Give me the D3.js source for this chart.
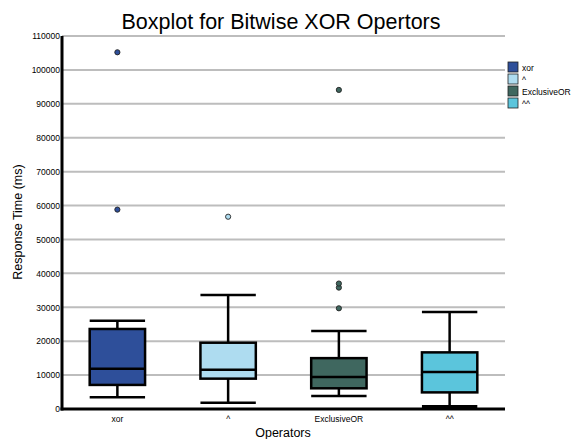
<!DOCTYPE html>
<html><head><meta charset="utf-8">
<script src="https://cdn.jsdelivr.net/npm/d3@7"></script>
<style>body{margin:0;background:#fff}svg{display:block;font-family:"Liberation Sans",Arial,sans-serif}</style>
</head><body>
<svg id="chart" width="574" height="439"></svg>
<script>
const categories = ["xor", "^", "ExclusiveOR", "^^"];
const colors = ["#2e4f9a", "#aedcf0", "#3f675f", "#5bc5dc"];
const whiskerLow = [3450, 1850, 3800, 600];
const q1 = [7100, 8950, 6100, 4900];
const median = [11900, 11600, 9450, 10900];
const q3 = [23600, 19550, 15000, 16700];
const whiskerHigh = [26050, 33600, 23000, 28600];
const outliers = [[58800, 105200], [56700], [29700, 35800, 37000, 94100], []];
const yTicks = [0,10000,20000,30000,40000,50000,60000,70000,80000,90000,100000,110000];

(function draw() {
const svg = d3.select("#chart");
const mLeft = 62, mRight = 505, mTop = 36, mBottom = 409;
const x = d3.scaleBand().domain(categories).range([mLeft, mRight]);
const y = d3.scaleLinear().domain([0, 110000]).range([mBottom, mTop]);

// gridlines
svg.append("g").selectAll("line").data(yTicks.filter(d => d > 0)).join("line")
  .attr("x1", mLeft).attr("x2", mRight)
  .attr("y1", d => y(d)).attr("y2", d => y(d))
  .attr("stroke", "#bdbdbd").attr("stroke-width", 2);

// y axis
const yAxis = svg.append("g").attr("transform", `translate(${mLeft},0)`)
  .call(d3.axisLeft(y).tickValues(yTicks).tickSize(0).tickPadding(2).tickFormat(d3.format("d")));
yAxis.select(".domain").remove();
yAxis.selectAll("text").attr("font-size", 8.5).attr("fill", "#000").attr("font-family", "Liberation Sans, Arial, sans-serif");

// x axis labels
const xAxis = svg.append("g").attr("transform", `translate(0,${mBottom})`)
  .call(d3.axisBottom(x).tickSize(0).tickPadding(7));
xAxis.select(".domain").remove();
xAxis.selectAll("text").attr("font-size", 8.5).attr("fill", "#000").attr("font-family", "Liberation Sans, Arial, sans-serif");

// boxes
const bw = x.bandwidth() * 0.5;
const g = svg.append("g").selectAll("g").data(categories).join("g")
  .attr("transform", d => `translate(${x(d) + x.bandwidth() / 2},0)`);
g.append("line").attr("x1", 0).attr("x2", 0)
  .attr("y1", (d, i) => y(whiskerHigh[i])).attr("y2", (d, i) => y(q3[i]))
  .attr("stroke", "#000").attr("stroke-width", 2.5);
g.append("line").attr("x1", 0).attr("x2", 0)
  .attr("y1", (d, i) => y(q1[i])).attr("y2", (d, i) => y(whiskerLow[i]))
  .attr("stroke", "#000").attr("stroke-width", 2.5);
g.append("line").attr("x1", -bw / 2).attr("x2", bw / 2)
  .attr("y1", (d, i) => y(whiskerHigh[i])).attr("y2", (d, i) => y(whiskerHigh[i]))
  .attr("stroke", "#000").attr("stroke-width", 2.5);
g.append("line").attr("x1", -bw / 2).attr("x2", bw / 2)
  .attr("y1", (d, i) => y(whiskerLow[i])).attr("y2", (d, i) => y(whiskerLow[i]))
  .attr("stroke", "#000").attr("stroke-width", (d, i) => i === 3 ? 4 : 2.5);
g.append("rect").attr("x", -bw / 2).attr("width", bw)
  .attr("y", (d, i) => y(q3[i])).attr("height", (d, i) => y(q1[i]) - y(q3[i]))
  .attr("fill", (d, i) => colors[i]).attr("stroke", "#000").attr("stroke-width", 2.5);
g.append("line").attr("x1", -bw / 2).attr("x2", bw / 2)
  .attr("y1", (d, i) => y(median[i])).attr("y2", (d, i) => y(median[i]))
  .attr("stroke", "#000").attr("stroke-width", 2.5);
g.each(function(d, i) {
  d3.select(this).selectAll("circle").data(outliers[i]).join("circle")
    .attr("cx", 0).attr("cy", v => y(v)).attr("r", 2.6)
    .attr("fill", colors[i]).attr("stroke", "#222").attr("stroke-width", 0.9);
});

// axis lines
svg.append("line").attr("x1", mLeft).attr("x2", mLeft).attr("y1", mTop).attr("y2", mBottom + 1.5)
  .attr("stroke", "#000").attr("stroke-width", 3);
svg.append("line").attr("x1", mLeft - 1.5).attr("x2", mRight).attr("y1", mBottom).attr("y2", mBottom)
  .attr("stroke", "#000").attr("stroke-width", 3);

// titles
svg.append("text").attr("x", 281).attr("y", 29).attr("text-anchor", "middle")
  .attr("font-size", 21.5).attr("fill", "#000").text("Boxplot for Bitwise XOR Opertors");
svg.append("text").attr("x", 283).attr("y", 437).attr("text-anchor", "middle")
  .attr("font-size", 12.5).attr("fill", "#000").text("Operators");
svg.append("text").attr("transform", "translate(22,222) rotate(-90)").attr("text-anchor", "middle")
  .attr("font-size", 12.5).attr("fill", "#000").text("Response Time (ms)");

// legend
const lg = svg.append("g").selectAll("g").data(categories).join("g")
  .attr("transform", (d, i) => `translate(508,${62 + i * 12})`);
lg.append("rect").attr("width", 10).attr("height", 10)
  .attr("fill", (d, i) => colors[i]).attr("stroke", "#222").attr("stroke-width", 0.8);
lg.append("text").attr("x", 14).attr("y", 8.5).attr("font-size", 8.5).attr("fill", "#000").text(d => d);
})();
</script>
</body></html>
